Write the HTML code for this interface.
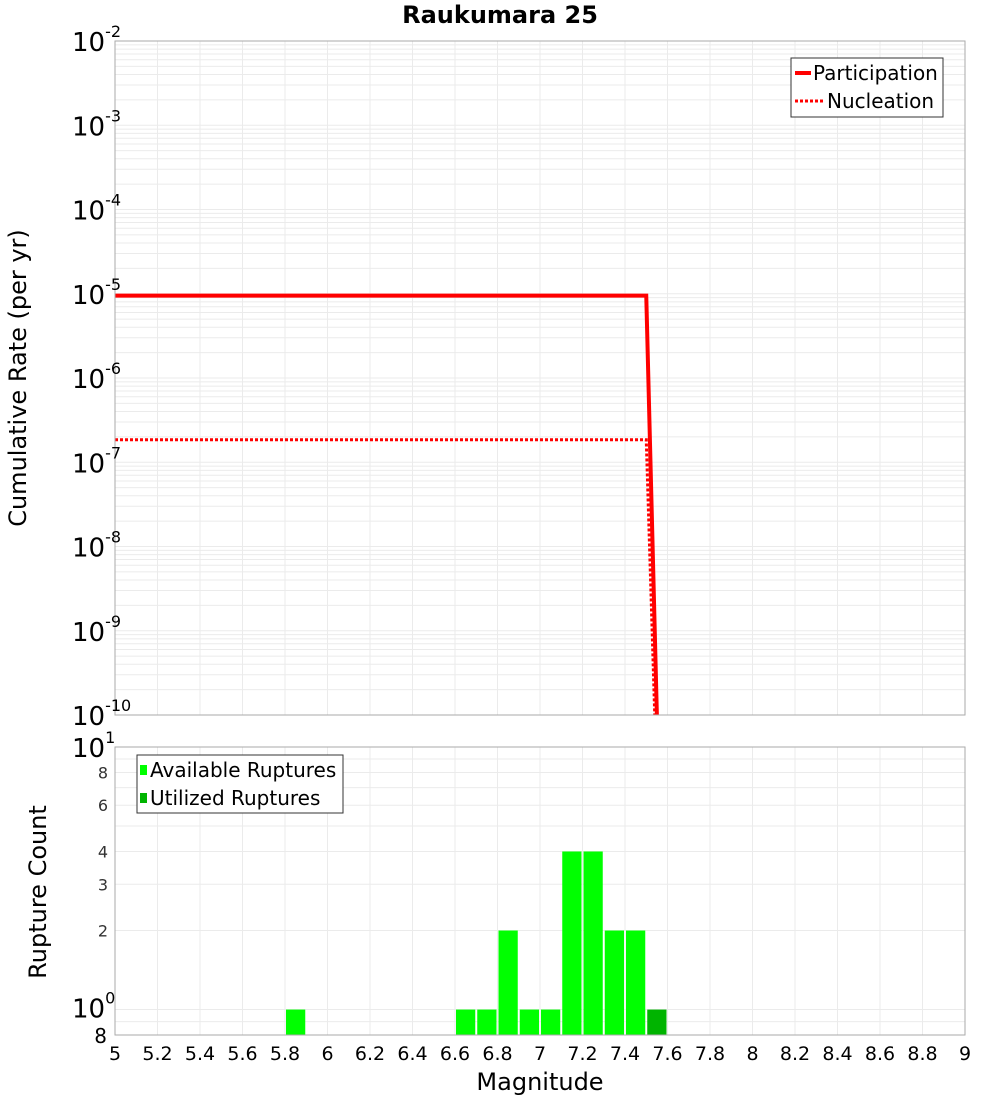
<!DOCTYPE html>
<html><head><meta charset="utf-8"><style>
body{margin:0;background:#fff;width:1000px;height:1100px;overflow:hidden}
svg{font-family:"DejaVu Sans","Liberation Sans",sans-serif}
</style></head><body>
<svg id="c" width="1000" height="1100"></svg>
<script>
const magTicks=[5,5.2,5.4,5.6,5.8,6,6.2,6.4,6.6,6.8,7,7.2,7.4,7.6,7.8,8,8.2,8.4,8.6,8.8,9];
const partMags=[5,7.5,7.55];
const partRates=[9.5e-6,9.5e-6,1e-10];
const nuclMags=[5,7.5,7.54];
const nuclRates=[1.85e-7,1.85e-7,1e-10];
const availBins=[5.85,6.65,6.75,6.85,6.95,7.05,7.15,7.25,7.35,7.45];
const availCounts=[1,1,1,2,1,1,4,4,2,2];
const utilBins=[7.55];
const utilCounts=[1];
const topExps=[-2,-3,-4,-5,-6,-7,-8,-9,-10];
const botTicks=[8,6,4,3,2];

const S=document.getElementById('c'),NS='http://www.w3.org/2000/svg';
function el(t,a,p,txt){const e=document.createElementNS(NS,t);for(const k in a)e.setAttribute(k,a[k]);if(txt!==undefined)e.textContent=txt;(p||S).appendChild(e);return e;}
const L=115,R=965,T1=41,B1=715,T2=747,B2=1035;
const xs=m=>L+(m-5)/4*(R-L);
const y1=v=>T1+(-2-Math.log10(v))/8*(B1-T1);
const y2=v=>T2+(1-Math.log10(v))/(1-Math.log10(0.8))*(B2-T2);

let t=el('text',{x:500,y:23,'text-anchor':'middle','font-size':24,'font-weight':'bold'},S,'Raukumara 25');


const g1=el('g',{stroke:'#ebebeb','stroke-width':1});

for(let e=-10;e<-2;e++)for(let k=1;k<10;k++){const y=y1(k*Math.pow(10,e));el('line',{x1:L,x2:R,y1:y,y2:y},g1);}
const g2=el('g',{stroke:'#ebebeb','stroke-width':1});

for(const v of [0.8,0.9,1,2,3,4,5,6,7,8,9,10]){const y=y2(v);el('line',{x1:L,x2:R,y1:y,y2:y},g2);}
for(const m of magTicks){const x=xs(m);el('line',{x1:x,x2:x,y1:T1,y2:B1},g1);el('line',{x1:x,x2:x,y1:T2,y2:B2},g2);}

function pts(ms,vs){return ms.map((m,i)=>xs(m)+','+y1(vs[i])).join(' ');}
const cp=el('svg',{x:L,y:T1,width:R-L,height:B1-T1+3,overflow:'hidden'});
const g=el('g',{transform:`translate(${-L},${-T1})`},cp);
let p=el('polyline',{points:pts(partMags,partRates),fill:'none',stroke:'#f00','stroke-width':4},g);

p=el('polyline',{points:pts(nuclMags,nuclRates),fill:'none',stroke:'#f00','stroke-width':3,'stroke-dasharray':'3,2'},g);


const bw=(R-L)/40;
availBins.forEach((m,i)=>{const b=el('rect',{x:xs(m)-bw/2+1,y:y2(availCounts[i]),width:bw-2,height:B2-y2(availCounts[i]),fill:'#00ff00'});
});
utilBins.forEach((m,i)=>{const b=el('rect',{x:xs(m)-bw/2+1,y:y2(utilCounts[i]),width:bw-2,height:B2-y2(utilCounts[i]),fill:'#00b400'});
});

let f=el('rect',{x:L,y:T1,width:R-L,height:B1-T1,fill:'none',stroke:'#aaa'});

f=el('rect',{x:L,y:T2,width:R-L,height:B2-T2,fill:'none',stroke:'#aaa'});


topExps.forEach(e=>{const y=y1(Math.pow(10,e));const tx=el('text',{x:72,y:y+10,'font-size':26});

el('tspan',{},tx,'10');el('tspan',{dy:-14,'font-size':16},tx,String(e));});
let tx=el('text',{x:72,y:y2(10)+10,'font-size':26});
el('tspan',{},tx,'10');el('tspan',{dy:-14,'font-size':16},tx,'1');
tx=el('text',{x:72,y:y2(1)+8,'font-size':26});
el('tspan',{},tx,'10');el('tspan',{dy:-14,'font-size':16},tx,'0');
botTicks.forEach(v=>{const t=el('text',{x:108,y:y2(v)+6,'font-size':16,'text-anchor':'end',fill:'#333'},S,String(v));
});
t=el('text',{x:107,y:1043,'font-size':20,'text-anchor':'end'},S,'8');
magTicks.forEach(m=>{const t=el('text',{x:xs(m),y:1060,'font-size':19,'text-anchor':'middle'},S,String(m));
});
t=el('text',{x:540,y:1090,'font-size':24,'text-anchor':'middle'},S,'Magnitude');
t=el('text',{x:0,y:0,'font-size':24,'text-anchor':'middle',transform:'translate(26,378) rotate(-90)'},S,'Cumulative Rate (per yr)');
t=el('text',{x:0,y:0,'font-size':24,'text-anchor':'middle',transform:'translate(46,892) rotate(-90)'},S,'Rupture Count');

let lg=el('g',{});
el('rect',{x:791,y:58,width:152,height:59,fill:'#fff',stroke:'#333'},lg);
el('line',{x1:795,x2:811,y1:73,y2:73,stroke:'#f00','stroke-width':4},lg);
el('text',{x:813,y:80,'font-size':20},lg,'Participation');
el('line',{x1:795,x2:823,y1:101,y2:101,stroke:'#f00','stroke-width':3,'stroke-dasharray':'3,2'},lg);
el('text',{x:827,y:108,'font-size':20},lg,'Nucleation');
lg=el('g',{});
el('rect',{x:137,y:755,width:206,height:58,fill:'#fff',stroke:'#333'},lg);
el('rect',{x:140,y:765,width:7,height:10,fill:'#00ff00'},lg);
el('text',{x:150,y:777,'font-size':20},lg,'Available Ruptures');
el('rect',{x:140,y:793,width:7,height:10,fill:'#00b400'},lg);
el('text',{x:150,y:805,'font-size':20},lg,'Utilized Ruptures');
</script>
</body></html>
